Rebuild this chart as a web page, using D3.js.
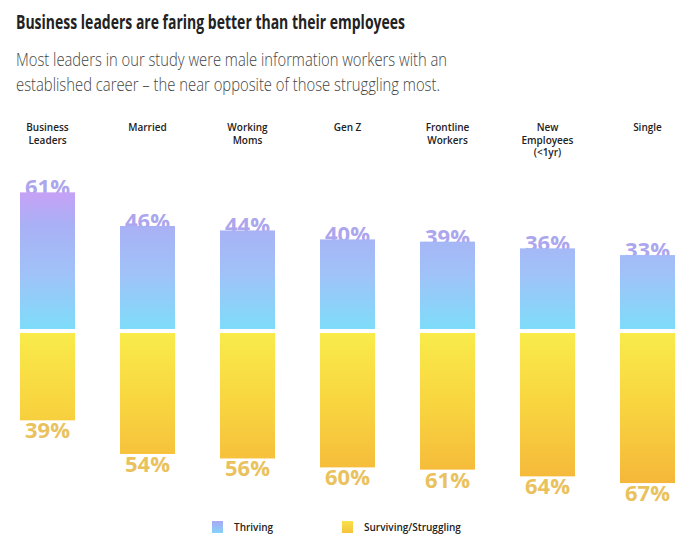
<!DOCTYPE html>
<html>
<head>
<meta charset="utf-8">
<script src="https://cdn.jsdelivr.net/npm/d3@7"></script>
<style>
  html, body { margin: 0; padding: 0; background: #fff; }
  svg { display: block; }
</style>
</head>
<body>
<svg id="chart" width="691" height="559"></svg>
<script>
// ---- data ----
const categories = ["Business Leaders", "Married", "Working Moms", "Gen Z", "Frontline Workers", "New Employees (<1yr)", "Single"];
const categoryLines = [["Business", "Leaders"], ["Married"], ["Working", "Moms"], ["Gen Z"], ["Frontline", "Workers"], ["New", "Employees", "(<1yr)"], ["Single"]];
const thriving = [61, 46, 44, 40, 39, 36, 33];
const struggling = [39, 54, 56, 60, 61, 64, 67];
const seriesNames = ["Thriving", "Surviving/Struggling"];
const titleText = "Business leaders are faring better than their employees";
const subtitleLines = ["Most leaders in our study were male information workers with an", "established career \u2013 the near opposite of those struggling most."];

const svg = d3.select("#chart");
const FONT = "'Open Sans', 'Noto Sans', sans-serif";

// gradients
const defs = svg.append("defs");
const gBlue = defs.append("linearGradient").attr("id", "gBlue")
  .attr("gradientUnits", "userSpaceOnUse").attr("x1", 0).attr("x2", 0).attr("y1", 190).attr("y2", 329);
[[0, "#c8a0f6"], [0.25, "#a9b0f5"], [0.6, "#a0c2f8"], [1, "#7edcfa"]].forEach(([o, c]) =>
  gBlue.append("stop").attr("offset", o).attr("stop-color", c));
const gYellow = defs.append("linearGradient").attr("id", "gYellow")
  .attr("gradientUnits", "userSpaceOnUse").attr("x1", 0).attr("x2", 0).attr("y1", 333).attr("y2", 486);
[[0, "#f9eb4a"], [0.5, "#f8d33f"], [1, "#f5b63a"]].forEach(([o, c]) =>
  gYellow.append("stop").attr("offset", o).attr("stop-color", c));
const gBlueL = defs.append("linearGradient").attr("id", "gBlueL").attr("x1", 0).attr("x2", 0).attr("y1", 0).attr("y2", 1);
[[0, "#a8a8f4"], [1, "#86d2fa"]].forEach(([o, c]) => gBlueL.append("stop").attr("offset", o).attr("stop-color", c));
const gYellowL = defs.append("linearGradient").attr("id", "gYellowL").attr("x1", 0).attr("x2", 0).attr("y1", 0).attr("y2", 1);
[[0, "#f8e24a"], [1, "#f5c23c"]].forEach(([o, c]) => gYellowL.append("stop").attr("offset", o).attr("stop-color", c));

// title
svg.append("text").attr("x", 16).attr("y", 29)
  .attr("font-family", FONT).attr("font-weight", 700).attr("font-size", 19).attr("fill", "#222")
  .attr("textLength", 389).attr("lengthAdjust", "spacingAndGlyphs")
  .text(titleText);
svg.selectAll("text.sub").data(subtitleLines).join("text").attr("class", "sub")
  .attr("x", 16).attr("y", (d, i) => 66 + i * 25)
  .attr("font-family", FONT).attr("font-weight", 300).attr("font-size", 18.5).attr("fill", "#444")
  .attr("textLength", (d, i) => [431, 424][i]).attr("lengthAdjust", "spacingAndGlyphs")
  .text(d => d);

// scales
const x = d3.scaleBand().domain(categories).range([20, 675]).paddingInner(0.45).paddingOuter(0);
const h = d3.scaleLinear().domain([0, 100]).range([0, 224]);
const blueBase = 329, yellowTop = 333;

// category labels
const cat = svg.append("g");
categories.forEach((c, i) => {
  const t = cat.append("text")
    .attr("x", x(c) + x.bandwidth() / 2).attr("y", 131)
    .attr("text-anchor", "middle")
    .attr("font-family", FONT).attr("font-weight", 600).attr("font-size", 10).attr("fill", "#222");
  categoryLines[i].forEach((l, j) => {
    t.append("tspan").attr("x", x(c) + x.bandwidth() / 2).attr("dy", j === 0 ? 0 : 12.5).text(l);
  });
});

// value labels (drawn before bars so bars overlap them slightly)
svg.append("g").selectAll("text").data(thriving).join("text")
  .attr("x", (d, i) => x(categories[i]) + x.bandwidth() / 2)
  .attr("y", d => blueBase - h(d) + 3)
  .attr("text-anchor", "middle")
  .attr("font-family", FONT).attr("font-weight", 700).attr("font-size", 22).attr("fill", "#aca6ee")
  .text(d => d + "%");
svg.append("g").selectAll("text").data(struggling).join("text")
  .attr("x", (d, i) => x(categories[i]) + x.bandwidth() / 2)
  .attr("y", d => yellowTop + h(d) + 18)
  .attr("text-anchor", "middle")
  .attr("font-family", FONT).attr("font-weight", 700).attr("font-size", 22).attr("fill", "#e9c25e")
  .text(d => d + "%");

// bars
svg.append("g").selectAll("rect").data(thriving).join("rect")
  .attr("x", (d, i) => x(categories[i])).attr("width", x.bandwidth())
  .attr("y", d => blueBase - h(d)).attr("height", d => h(d))
  .attr("fill", "url(#gBlue)");
svg.append("g").selectAll("rect").data(struggling).join("rect")
  .attr("x", (d, i) => x(categories[i])).attr("width", x.bandwidth())
  .attr("y", yellowTop).attr("height", d => h(d))
  .attr("fill", "url(#gYellow)");

// legend
const legend = svg.append("g");
const legX = [212, 342];
const legFill = ["url(#gBlueL)", "url(#gYellowL)"];
seriesNames.forEach((s, i) => {
  legend.append("rect").attr("x", legX[i]).attr("y", 521).attr("width", 11).attr("height", 12).attr("fill", legFill[i]);
  legend.append("text").attr("x", legX[i] + 22).attr("y", 531)
    .attr("font-family", FONT).attr("font-weight", 600).attr("font-size", 10).attr("fill", "#222")
    .text(s);
});
</script>
</body>
</html>
